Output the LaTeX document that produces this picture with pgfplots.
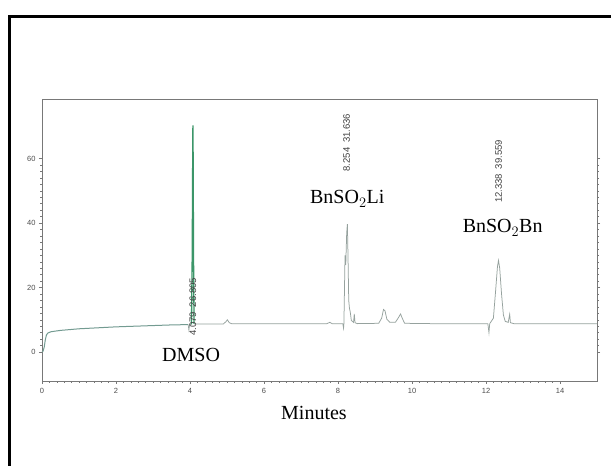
\documentclass[border=0pt]{standalone}
\usepackage{pgfplots}
\pgfplotsset{compat=1.18}
\usepackage{fontspec}
\setmainfont{Liberation Serif}
\setsansfont{Liberation Sans}
\definecolor{trace}{RGB}{150,162,158}
\definecolor{tealtrace}{RGB}{115,155,145}
\definecolor{peakgreen}{RGB}{60,150,105}
\definecolor{axgray}{RGB}{120,120,120}
\begin{document}
\begin{tikzpicture}[x=1pt,y=1pt]
\useasboundingbox (0,0) rectangle (611,466);
\fill[white] (0,0) rectangle (611,466);
\draw[line width=2.4pt] (9.5,-3) -- (9.5,449.5) -- (614,449.5);
\begin{axis}[
  at={(42pt,85pt)}, anchor=south west,
  width=555pt, height=282pt, scale only axis,
  xmin=0, xmax=15, ymin=-9, ymax=78.5,
  xtick={0,2,...,14}, ytick={0,20,40,60},
  minor x tick num=9, minor y tick num=9,
  xtick pos=bottom, ytick pos=both, yticklabel pos=left,
  tick align=outside,
  major tick length=3pt, minor tick length=1.8pt,
  every tick/.style={axgray, line width=0.5pt},
  axis line style={axgray, line width=0.8pt},
  tick label style={font=\sffamily\fontsize{7.5}{8}\selectfont, text=black!70},
  /pgf/number format/assume math mode=true,
  xticklabel style={yshift=-1pt},
  xlabel={Minutes},
  xlabel style={font=\fontsize{20}{22}\selectfont, at={(axis description cs:0.49,0)}, anchor=center, yshift=-32pt},
  clip=true,
]
\addplot[tealtrace, line width=1pt] coordinates {
(0,0) (0.03,0.3) (0.06,1.5) (0.09,3.8) (0.12,5.3) (0.16,5.9) (0.25,6.3)
(0.5,6.7) (1,7.2) (1.5,7.5) (2,7.8) (2.5,8.0) (3,8.2) (3.5,8.4) (3.95,8.5)
};
\addplot[trace, line width=0.7pt] coordinates {
(3.95,8.5) (3.97,6.8) (3.99,8.5) (4.04,8.6)
};
\addplot[peakgreen, line width=1.3pt] coordinates {
(4.04,8.6) (4.06,30) (4.075,65) (4.079,70.3) (4.085,60) (4.095,30) (4.11,8.7)
};
\addplot[trace, line width=0.75pt] coordinates {
(4.11,8.7) (4.5,8.7) (4.9,8.7) (4.97,9.4) (5.01,10.0) (5.06,9.1) (5.12,8.8)
(6,8.8) (7,8.8) (7.7,8.8) (7.78,9.2) (7.84,8.8) (8.13,8.8) (8.15,7.4) (8.16,8.8)
(8.19,30) (8.21,27) (8.235,37) (8.254,39.7) (8.27,30) (8.29,16) (8.31,13.5)
(8.33,12.5) (8.36,9.8) (8.42,9.2) (8.44,11.8) (8.46,9.1) (8.52,8.8)
(9.1,8.9) (9.18,10.5) (9.23,13.2) (9.27,12.8) (9.32,10.2) (9.4,9.2)
(9.55,9.2) (9.63,10.6) (9.69,11.8) (9.74,10.4) (9.8,8.9) (10.5,8.8) (11,8.8)
(12.05,8.8) (12.08,6.0) (12.1,8.8) (12.2,10.5) (12.26,19) (12.31,26.5)
(12.338,28.4) (12.37,26) (12.42,18) (12.47,11.5) (12.52,9.5) (12.6,9.2)
(12.64,11.7) (12.66,9.1) (12.75,8.8) (13.5,8.8) (14.5,8.8) (15,8.8)
};
\node[rotate=90, font=\sffamily\fontsize{9.5}{10}\selectfont, text=black!75] at (axis cs:4.079,14) {4.079\enspace 26.805};
\node[rotate=90, font=\sffamily\fontsize{9.5}{10}\selectfont, text=black!75] at (axis cs:8.23,65) {8.254\enspace 31.636};
\node[rotate=90, font=\sffamily\fontsize{9.5}{10}\selectfont, text=black!75] at (axis cs:12.338,56) {12.338\enspace 39.559};
\node[font=\fontsize{20}{22}\selectfont] at (axis cs:4.03,-1) {DMSO};
\node[font=\fontsize{20}{22}\selectfont] at (axis cs:8.25,47.5) {BnSO$_2$Li};
\node[font=\fontsize{20}{22}\selectfont] at (axis cs:12.45,38.5) {BnSO$_2$Bn};
\end{axis}
\end{tikzpicture}
\end{document}
